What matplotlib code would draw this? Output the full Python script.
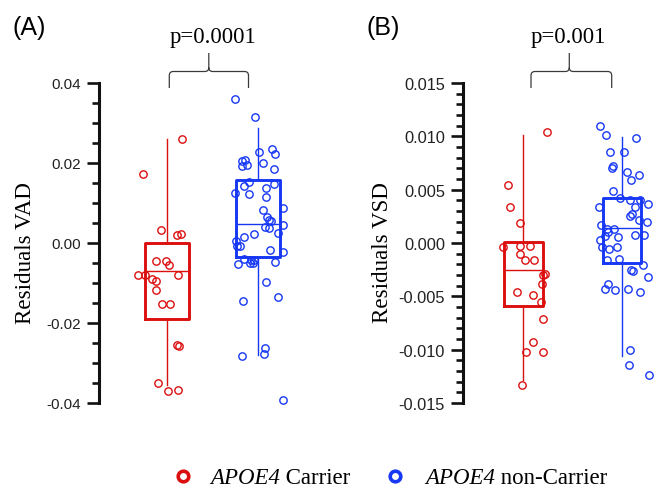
import matplotlib
matplotlib.use("Agg")
import matplotlib.pyplot as plt
from matplotlib.path import Path
from matplotlib.patches import PathPatch
from matplotlib.lines import Line2D
from matplotlib.transforms import Affine2D
from matplotlib.ticker import MultipleLocator, FormatStrFormatter

# ---------------- data ----------------
groups = ["APOE4 Carrier", "APOE4 non-Carrier"]
colors = ["#dc0f0f", "#1637f5"]

vad_carrier = [0.0260, 0.0173, 0.0033, 0.0020, 0.0022, -0.0045, -0.0045, -0.0056,
               -0.0080, -0.0081, -0.0081, -0.0090, -0.0095, -0.0118, -0.0152, -0.0152,
               -0.0255, -0.0258, -0.0351, -0.0370, -0.0368]
vad_carrier_jit = [0.17, -0.26, -0.07, 0.11, 0.15, -0.12, -0.01, 0.02,
                   -0.32, -0.24, 0.12, -0.16, -0.12, -0.12, -0.06, 0.03,
                   0.11, 0.13, -0.10, 0.01, 0.12]
vad_noncarrier = [0.0360, 0.0315, 0.0228, 0.0235, 0.0223, 0.0206, 0.0208, 0.0193,
                  0.0194, 0.0201, 0.0185, 0.0152, 0.0142, 0.0148, 0.0125, 0.0123,
                  0.0137, 0.0116, 0.0088, 0.0083, 0.0064, 0.0058, 0.0056, 0.0039,
                  0.0037, 0.0045, 0.0025, 0.0023, 0.0015, 0.0004, -0.0007, -0.0008,
                  -0.0018, -0.0023, -0.0040, -0.0042, -0.0042, -0.0052, -0.0051, -0.0051,
                  -0.0048, -0.0098, -0.0135, -0.0144, -0.0263, -0.0278, -0.0282, -0.0392]
vad_noncarrier_jit = [-0.25, -0.03, 0.01, 0.15, 0.19, -0.18, -0.14, -0.18,
                      -0.12, 0.05, 0.18, -0.10, -0.15, 0.18, -0.25, -0.10,
                      0.09, 0.09, 0.27, 0.05, 0.10, 0.12, 0.14, 0.08,
                      0.12, 0.28, 0.22, -0.04, -0.15, -0.24, -0.20, -0.23,
                      0.13, 0.28, -0.15, -0.08, -0.04, -0.22, -0.09, -0.06,
                      0.19, 0.09, 0.22, -0.16, 0.08, 0.07, -0.18, 0.28]

vsd_carrier = [0.0104, 0.00547, 0.00340, 0.00190, -0.00035, -0.00032, -0.00025, -0.0010,
               -0.00163, -0.00163, -0.00294, -0.0030, -0.00382, -0.00457, -0.00488, -0.00557,
               -0.00713, -0.00925, -0.01022, -0.0102, -0.01335]
vsd_carrier_jit = [0.24, -0.15, -0.13, -0.03, -0.21, -0.03, 0.07, -0.03,
                   0.02, 0.11, 0.22, 0.20, 0.19, -0.06, 0.10, 0.18,
                   0.20, 0.10, 0.03, 0.20, -0.01]
vsd_noncarrier = [0.0110, 0.0101, 0.00984, 0.00856, 0.00856, 0.00706, 0.00725, 0.00662,
                  0.0059, 0.00634, 0.00490, 0.00422, 0.00406, 0.0040, 0.00366, 0.00338,
                  0.00334, 0.00275, 0.0025, 0.00212, 0.00193, 0.00165, 0.00134, 0.00134,
                  0.00106, 0.00068, 0.00053, 0.00072, 0.00072, 0.00025, -0.00038, -0.00053,
                  -0.00038, -0.00163, -0.0015, -0.00206, -0.00253, -0.00263, -0.00319, -0.00382,
                  -0.00435, -0.0044, -0.00428, -0.00463, -0.01003, -0.01141, -0.01235]
vsd_noncarrier_jit = [-0.22, -0.16, 0.14, -0.12, 0.02, -0.10, -0.09, 0.05,
                      0.09, 0.17, -0.09, -0.02, 0.08, 0.18, 0.26, -0.23,
                      0.13, 0.10, 0.08, 0.17, 0.25, -0.21, -0.15, -0.08,
                      -0.14, -0.17, -0.04, 0.13, 0.22, -0.22, -0.20, -0.13,
                      -0.05, -0.15, -0.03, 0.21, 0.09, 0.11, 0.26, -0.14,
                      -0.17, -0.07, 0.06, 0.18, 0.08, 0.07, 0.27]

# box statistics: [whisker low, q1, median, q3, whisker high]
vad_box_carrier = [-0.0354, -0.0190, -0.0069, 0.0000, 0.0260]
vad_box_noncarrier = [-0.0279, -0.0036, 0.0048, 0.0158, 0.0288]
vsd_box_carrier = [-0.0128, -0.00594, -0.00253, 0.00006, 0.01015]
vsd_box_noncarrier = [-0.01057, -0.00188, 0.00144, 0.00422, 0.00994]

p_values = ["p=0.0001", "p=0.001"]
y_labels = ["Residuals VAD", "Residuals VSD"]
panel_labels = ["(A)", "(B)"]

# ---------------- style ----------------
plt.rcParams["axes.unicode_minus"] = False

W, H = 658, 489
fig = plt.figure(figsize=(W / 100, H / 100), dpi=100)
pix = Affine2D().scale(1 / W, -1 / H).translate(0, 1) + fig.transFigure


def make_axes(left, right, top, bottom):
    return fig.add_axes([left / W, 1 - bottom / H, (right - left) / W, (bottom - top) / H])


def style_axes(ax, ylim, major, minor, fmt, fsize):
    ax.set_ylim(*ylim)
    for s in ["top", "right", "bottom"]:
        ax.spines[s].set_visible(False)
    ax.spines["left"].set_linewidth(2.2)
    ax.spines["left"].set_color("#111111")
    ax.set_xticks([])
    ax.yaxis.set_major_locator(MultipleLocator(major))
    ax.yaxis.set_minor_locator(MultipleLocator(minor))
    ax.yaxis.set_major_formatter(FormatStrFormatter(fmt))
    ax.tick_params(axis="y", which="major", length=9, width=1.9, color="#111111",
                   labelsize=fsize, pad=4.2, labelcolor="#222222")
    ax.tick_params(axis="y", which="minor", length=4.8, width=1.9, color="#111111")
    for lab in ax.get_yticklabels():
        lab.set_fontfamily("Liberation Sans")
    ax.patch.set_alpha(0)


def draw_panel(ax, boxes, widths, pts, jits):
    stats = []
    for b in boxes:
        stats.append(dict(whislo=b[0], q1=b[1], med=b[2], q3=b[3], whishi=b[4]))
    for i, (st, c) in enumerate(zip(stats, colors)):
        ax.bxp([st], positions=[i + 1], widths=widths, showfliers=False, showcaps=False,
               boxprops=dict(color=c, linewidth=2.1),
               whiskerprops=dict(color=c, linewidth=1.0),
               medianprops=dict(color=c, linewidth=1.0),
               manage_ticks=False)
    for i, (vals, jit, c) in enumerate(zip(pts, jits, colors)):
        xs = [i + 1 + j for j in jit]
        ax.plot(xs, vals, linestyle="none", marker="o", markersize=5.3,
                markerfacecolor="none", markeredgecolor=c, markeredgewidth=1.0,
                clip_on=False, zorder=5)


# Panel A
axA = make_axes(99.3, 300, 84, 404)
style_axes(axA, (-0.04, 0.04), 0.02, 0.005, "%.2f", 11)
draw_panel(axA, [vad_box_carrier, vad_box_noncarrier], 0.49,
           [vad_carrier, vad_noncarrier], [vad_carrier_jit, vad_noncarrier_jit])
axA.set_xlim(1 - (167 - 99.3) / 91, 1 - (167 - 99.3) / 91 + (300 - 99.3) / 91)

# Panel B
axB = make_axes(463.3, 658, 84, 404)
style_axes(axB, (-0.015, 0.015), 0.005, 0.001, "%.3f", 11.8)
draw_panel(axB, [vsd_box_carrier, vsd_box_noncarrier], 0.39,
           [vsd_carrier, vsd_noncarrier], [vsd_carrier_jit, vsd_noncarrier_jit])
axB.set_xlim(1 - (523.3 - 463.3) / 98.7, 1 - (523.3 - 463.3) / 98.7 + (658 - 463.3) / 98.7)

# y labels
fig.text(26 / W, 1 - 253 / H, y_labels[0], rotation=90, ha="center", va="center",
         fontsize=16.6, fontfamily="Liberation Serif")
fig.text(383 / W, 1 - 253 / H, y_labels[1], rotation=90, ha="center", va="center",
         fontsize=16.6, fontfamily="Liberation Serif")

# panel labels
fig.text(13 / W, 1 - 28 / H, panel_labels[0], ha="left", va="center",
         fontsize=18, fontfamily="Liberation Sans")
fig.text(366 / W, 1 - 28 / H, panel_labels[1], ha="left", va="center",
         fontsize=18, fontfamily="Liberation Sans")

# p-values
fig.text(213 / W, 1 - 38 / H, p_values[0], ha="center", va="center",
         fontsize=16.4, fontfamily="Liberation Serif")
fig.text(568 / W, 1 - 38 / H, p_values[1], ha="center", va="center",
         fontsize=16.4, fontfamily="Liberation Serif")


def brace(x0, x1, xm, ytop, ybot, ycusp, r=4):
    verts = [(x0, ybot), (x0, ytop + r), (x0, ytop), (x0 + r, ytop), (xm - r, ytop),
             (xm, ytop), (xm, ytop - r), (xm, ycusp),
             (x1, ybot), (x1, ytop + r), (x1, ytop), (x1 - r, ytop), (xm + r, ytop),
             (xm, ytop), (xm, ytop - r)]
    codes = [Path.MOVETO, Path.LINETO, Path.CURVE3, Path.CURVE3, Path.LINETO,
             Path.CURVE3, Path.CURVE3, Path.LINETO,
             Path.MOVETO, Path.LINETO, Path.CURVE3, Path.CURVE3, Path.LINETO,
             Path.CURVE3, Path.CURVE3]
    p = PathPatch(Path(verts, codes), transform=pix, facecolor="none",
                  edgecolor="#3a3a3a", linewidth=0.9)
    fig.add_artist(p)


brace(169.3, 248.5, 208.8, 72.5, 89, 54)
brace(531, 611.7, 569.3, 72.5, 89, 54)

# legend
renderer = fig.canvas.get_renderer()
for cx, c, tx, lab in [(183.3, colors[0], 210, groups[0]), (395, colors[1], 425, groups[1])]:
    fig.add_artist(Line2D([cx], [476.7], transform=pix, marker="o", markersize=7.6,
                          markerfacecolor="none", markeredgecolor=c, markeredgewidth=2.6,
                          linestyle="none"))
    word, rest = lab.split(" ", 1)
    t1 = fig.text(tx / W, 1 - 484 / H, word, ha="left", va="baseline", fontsize=16.5,
                  fontfamily="Liberation Serif", fontstyle="italic")
    bb = t1.get_window_extent(renderer=renderer)
    fig.text(bb.x1 / W, 1 - 484 / H, " " + rest, ha="left", va="baseline", fontsize=16.5,
             fontfamily="Liberation Serif")

fig.savefig("out.png", dpi=100)
